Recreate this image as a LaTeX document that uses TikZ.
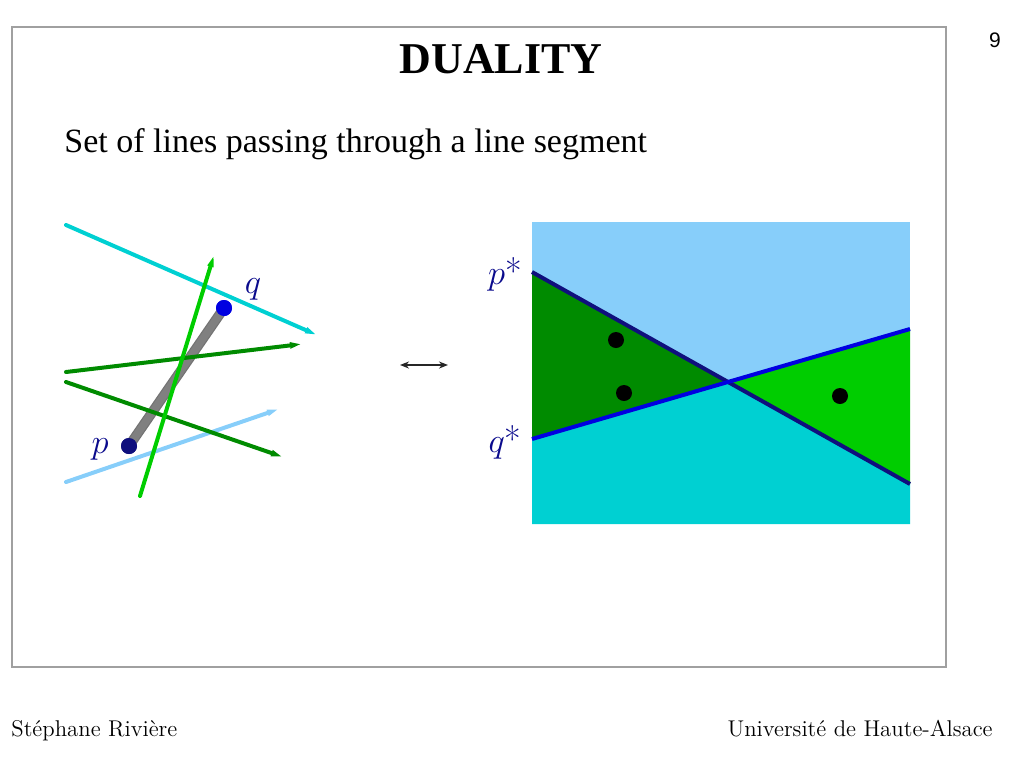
\documentclass[tikz,border=0pt]{standalone}
\usepackage{fontspec}
\newfontfamily\slidefont{Liberation Serif}
\newfontfamily\numfont{Liberation Sans}
\usetikzlibrary{arrows.meta}
\definecolor{skyfill}{RGB}{135,206,250}
\definecolor{cyanfill}{RGB}{0,208,210}
\definecolor{darkgreen}{RGB}{0,139,0}
\definecolor{brightgreen}{RGB}{0,205,0}
\definecolor{navyline}{RGB}{15,15,125}
\definecolor{blueline}{RGB}{0,0,225}
\definecolor{labelblue}{RGB}{10,10,140}
\definecolor{framegray}{RGB}{160,160,160}
\begin{document}
\begin{tikzpicture}[x=0.5pt, y=-0.5pt, line cap=round,
  thin line/.style={line width=2pt,-{Triangle[length=6pt,width=2.8pt]}},
  end dot/.style={circle,inner sep=0pt,minimum size=8pt},
  label node/.style={text=labelblue,font=\fontsize{18}{21}\selectfont}]
\useasboundingbox (0,0) rectangle (1024,768);
\draw[framegray, line width=0.6pt] (12,27) rectangle (946,667);
\begin{scope}[every node/.style={inner sep=0pt}]
\node[font=\slidefont\bfseries\fontsize{22}{26}\selectfont] (title) at (501,59) {DUALITY};
\node[anchor=base west, font=\slidefont\fontsize{17}{20}\selectfont] (subtitle) at (64,152) {Set of lines passing through a line segment};
\node[font=\numfont\fontsize{10.5}{12}\selectfont] (pagenum) at (995,40) {9};
\node[anchor=base west, font=\fontsize{11.4}{14}\selectfont] (author) at (11,736) {Stéphane Rivière};
\node[anchor=base east, font=\fontsize{11.4}{14}\selectfont] (univ) at (993,736) {Université de Haute-Alsace};
\end{scope}
% primal: segment pq and lines through it
\node[end dot, fill=navyline] (p) at (129,446) {};
\node[end dot, fill=blueline] (q) at (224,308) {};
\draw[line width=5pt, black!55, line cap=butt] (p.center) -- (q.center);
\draw[line width=3.8pt, black!50!white, line cap=butt] (p.center) -- (q.center);
\node[end dot, fill=navyline] at (p) {};
\node[end dot, fill=blueline] at (q) {};
\node[label node] (plabel) at (100,449) {$p$};
\node[label node] (qlabel) at (253,289) {$q$};
\coordinate (c1a) at (66,225);
\coordinate (c1b) at (317,335);
\coordinate (d1a) at (66,372);
\coordinate (d1b) at (302,344);
\coordinate (d2a) at (66,382);
\coordinate (d2b) at (283,457);
\coordinate (b1a) at (66,482);
\coordinate (b1b) at (279,409);
\coordinate (g1a) at (140,496);
\coordinate (g1b) at (214,255);
\draw [thin line, cyanfill] (c1a) -- (c1b);
\draw [thin line, skyfill] (b1a) -- (b1b);
\draw [thin line, darkgreen] (d1a) -- (d1b);
\draw [thin line, darkgreen] (d2a) -- (d2b);
\draw [thin line, brightgreen] (g1a) -- (g1b);
% correspondence arrow
\coordinate (arrL) at (400,365);
\coordinate (arrR) at (448,365);
\draw [{Stealth[length=4.5pt,width=3.5pt]}-{Stealth[length=4.5pt,width=3.5pt]}, line width=0.8pt, black!85] (arrL) -- (arrR);
% dual plane
\coordinate (ul) at (532,222);
\coordinate (lr) at (910,524);
\coordinate (ps) at (532,272);
\coordinate (pe) at (910,484);
\coordinate (qs) at (532,439);
\coordinate (qe) at (910,329);
\coordinate (x) at (728,382);
\fill[skyfill] (ul) rectangle (lr);
\fill[cyanfill] (qs) -- (x) -- (pe) -- (910,524) -- (532,524) -- cycle;
\fill[darkgreen] (ps) -- (x) -- (qs) -- cycle;
\fill[brightgreen] (x) -- (qe) -- (pe) -- cycle;
\draw[navyline, line width=2pt, line cap=butt] (ps) -- (pe);
\draw[blueline, line width=2pt, line cap=butt] (qs) -- (qe);
\node[end dot, fill=black] (l1) at (616,340) {};
\node[end dot, fill=black] (l2) at (624,393) {};
\node[end dot, fill=black] (r1) at (840,396) {};
\node[label node] (pstar) at (505,274) {$p$*};
\node[label node] (qstar) at (505,442) {$q$*};
\end{tikzpicture}
\end{document}
